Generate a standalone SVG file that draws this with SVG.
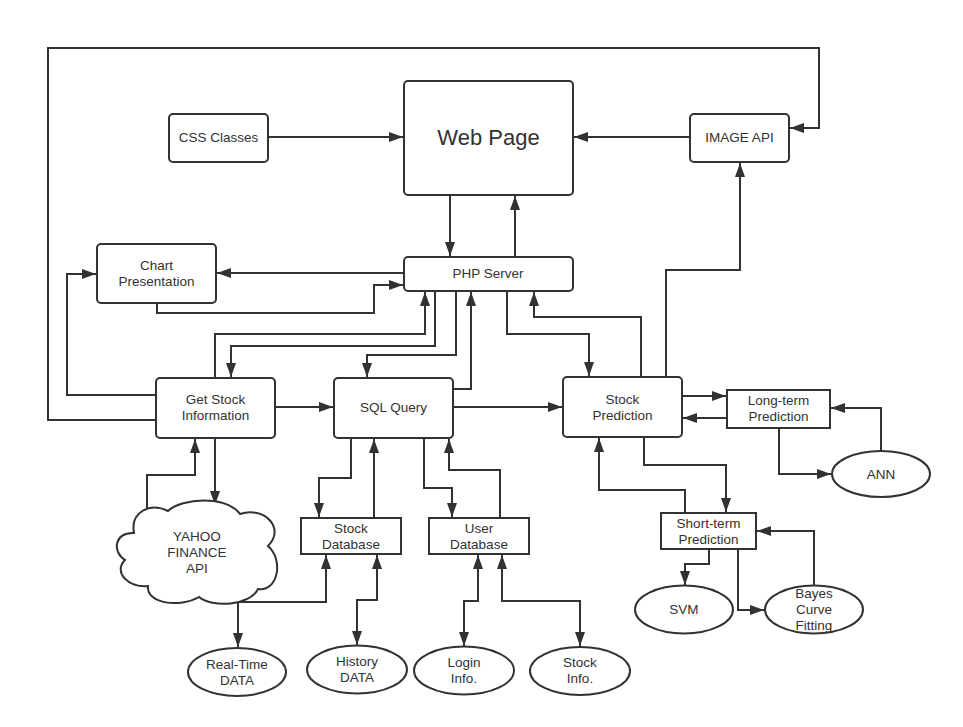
<svg xmlns="http://www.w3.org/2000/svg" width="963" height="727" viewBox="0 0 963 727">
<style>
.n{fill:#fff;stroke:#323232;stroke-width:2}
.t{font-family:"Liberation Sans",Arial,sans-serif;font-size:13.5px;fill:#323232;text-anchor:middle}
.c path{fill:none;stroke:#323232;stroke-width:2;marker-end:url(#a)}
.c path.d{marker-start:url(#a)}
</style>
<defs>
<marker id="a" markerUnits="userSpaceOnUse" markerWidth="15" markerHeight="11" refX="14" refY="5" orient="auto-start-reverse">
<path d="M0,0 L14,5 L0,10 z" fill="#323232"/>
</marker>
</defs>
<rect width="963" height="727" fill="#fff"/>
<g class="c">
<path d="M156,420 H48 V48 H819 V128 H790"/>
<path d="M268,137 H403"/>
<path d="M690,137 H574"/>
<path d="M450,195 V256"/>
<path d="M515,257 V196"/>
<path d="M404,273 H217"/>
<path d="M157,303 V313 H374 V285 H403"/>
<path d="M156,395 H67 V274 H96"/>
<path d="M215,378 V334 H425 V292"/>
<path d="M435,291 V346 H231 V377"/>
<path d="M456,291 V355 H367 V377"/>
<path d="M453,389 H471 V292"/>
<path d="M507,291 V334 H589 V376"/>
<path d="M641,377 V317 H534 V292"/>
<path d="M666,377 V270 H740 V163"/>
<path d="M275,407 H333"/>
<path d="M453,407 H562"/>
<path d="M682,396 H726"/>
<path d="M727,418 H683"/>
<path d="M779,428 V474 H831"/>
<path d="M881,451 V408 H831"/>
<path d="M644,437 V465 H726 V512"/>
<path d="M685,513 V490 H599 V438"/>
<path d="M709,549 V564 H685 V585"/>
<path d="M738,549 V610 H764"/>
<path d="M814,585 V531 H757"/>
<path d="M147,508 V475 H195 V439"/>
<path d="M215,438 V505"/>
<path d="M351,438 V478 H319 V517"/>
<path d="M374,518 V439"/>
<path d="M424,438 V488 H452 V517"/>
<path d="M500,518 V470 H449 V439"/>
<path class="d" d="M326,555 V602 H238 V647"/>
<path class="d" d="M377,555 V600 H357 V645"/>
<path class="d" d="M478,555 V601 H464 V646"/>
<path class="d" d="M502,555 V601 H580 V646"/>
</g>
<g id="css"><rect class="n" x="169" y="114" width="99" height="48" rx="4"/><text class="t" x="218.5" y="142">CSS Classes</text></g>
<g id="webpage"><rect class="n" x="404" y="81" width="169" height="114" rx="4"/><text class="t" x="488.5" y="145" style="font-size:22px">Web Page</text></g>
<g id="imageapi"><rect class="n" x="690" y="114" width="99" height="48" rx="4"/><text class="t" x="739.5" y="142">IMAGE API</text></g>
<g id="chart"><rect class="n" x="97" y="244" width="119" height="59" rx="4"/><text class="t" x="156.5" y="270">Chart</text><text class="t" x="156.5" y="286">Presentation</text></g>
<g id="php"><rect class="n" x="404" y="257" width="169" height="34" rx="4"/><text class="t" x="488" y="278">PHP Server</text></g>
<g id="getstock"><rect class="n" x="156" y="378" width="119" height="60" rx="4"/><text class="t" x="215.5" y="404">Get Stock</text><text class="t" x="215.5" y="420">Information</text></g>
<g id="sql"><rect class="n" x="334" y="378" width="119" height="60" rx="4"/><text class="t" x="393.5" y="412">SQL Query</text></g>
<g id="stockpred"><rect class="n" x="563" y="377" width="119" height="60" rx="4"/><text class="t" x="622.5" y="404">Stock</text><text class="t" x="622.5" y="420">Prediction</text></g>
<g id="longterm"><rect class="n" x="727" y="390" width="103" height="38"/><text class="t" x="778.5" y="405">Long-term</text><text class="t" x="778.5" y="421">Prediction</text></g>
<g id="ann"><ellipse class="n" cx="881" cy="474" rx="49" ry="23"/><text class="t" x="881" y="479">ANN</text></g>
<g id="shortterm"><rect class="n" x="661" y="513" width="95" height="36"/><text class="t" x="708.5" y="528">Short-term</text><text class="t" x="708.5" y="544">Prediction</text></g>
<g id="svm"><ellipse class="n" cx="684" cy="609.5" rx="49" ry="24"/><text class="t" x="684" y="614">SVM</text></g>
<g id="bayes"><ellipse class="n" cx="814" cy="609.5" rx="49" ry="24"/><text class="t" x="814" y="598">Bayes</text><text class="t" x="814" y="614">Curve</text><text class="t" x="814" y="630">Fitting</text></g>
<g id="stockdb"><rect class="n" x="301" y="518" width="100" height="36"/><text class="t" x="351" y="533">Stock</text><text class="t" x="351" y="549">Database</text></g>
<g id="userdb"><rect class="n" x="429" y="518" width="100" height="36"/><text class="t" x="479" y="533">User</text><text class="t" x="479" y="549">Database</text></g>
<g id="yahoo"><path class="n" d="M125,560 C112,552 114,532 134,533 C130,512 150,502 168,511 C182,498 226,495 240,514 C264,506 286,528 268,546 C284,560 278,592 258,589 C250,606 212,608 199,597 C180,608 146,604 148,586 C128,588 113,572 125,560 Z"/><text class="t" x="197" y="541">YAHOO</text><text class="t" x="197" y="557">FINANCE</text><text class="t" x="197" y="573">API</text></g>
<g id="realtime"><ellipse class="n" cx="237" cy="672" rx="49" ry="24"/><text class="t" x="237" y="669">Real-Time</text><text class="t" x="237" y="685">DATA</text></g>
<g id="history"><ellipse class="n" cx="357" cy="669.5" rx="50" ry="24"/><text class="t" x="357" y="666">History</text><text class="t" x="357" y="682">DATA</text></g>
<g id="login"><ellipse class="n" cx="464" cy="670.5" rx="50" ry="24"/><text class="t" x="464" y="667">Login</text><text class="t" x="464" y="683">Info.</text></g>
<g id="stockinfo"><ellipse class="n" cx="580" cy="671" rx="50" ry="24"/><text class="t" x="580" y="667">Stock</text><text class="t" x="580" y="683">Info.</text></g>
</svg>
